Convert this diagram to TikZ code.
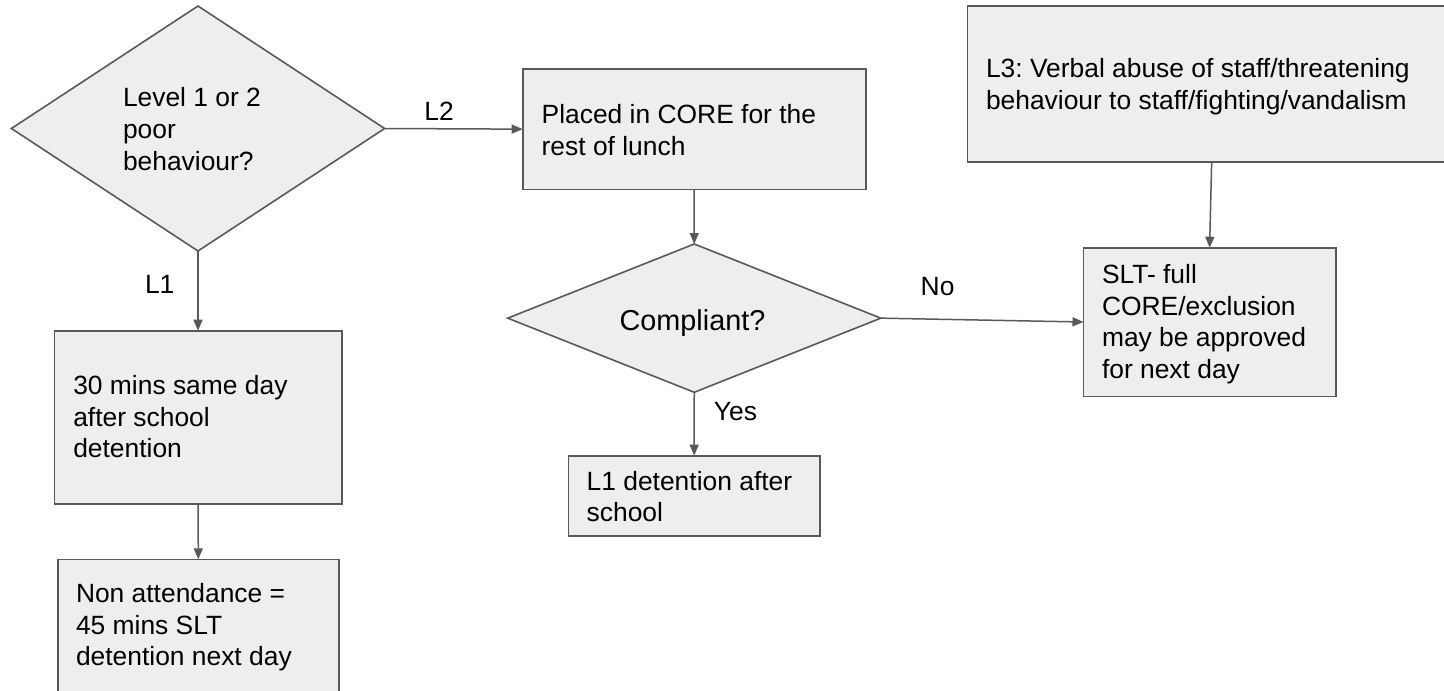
\documentclass[tikz,border=0pt]{standalone}
\usepackage{fontspec}
\setmainfont{Liberation Sans}
\usetikzlibrary{shapes.geometric,arrows.meta}
\definecolor{fillg}{HTML}{EEEEEE}
\definecolor{lineg}{HTML}{595959}
\frenchspacing
\newcommand\txtlines[1]{\vtop{\baselineskip=31.7pt\lineskiplimit=-1000pt\lineskip=0pt\halign{##\hfil\cr#1\crcr}}}
\begin{document}
\begin{tikzpicture}[x=1pt,y=-1pt,
 shapebox/.style={draw=lineg,fill=fillg,line width=1.6pt,rectangle,inner sep=0pt,outer sep=0pt},
 decision/.style={draw=lineg,fill=fillg,line width=1.6pt,diamond,inner sep=0pt,outer sep=0pt},
 words/.style={inner sep=0pt,outer sep=0pt,anchor=base west,font=\fontsize{26.4}{31.7}\selectfont},
 tag/.style={inner sep=0pt,outer sep=0pt,anchor=base,font=\fontsize{26.4}{31.7}\selectfont},
 conn/.style={draw=lineg,line width=1.5pt,-{Triangle[length=11pt,width=9pt]}}]
\useasboundingbox (0,0) rectangle (1444,691);
\clip (0,0) rectangle (1444,691);
\fill[white] (0,0) rectangle (1444,691);

% shapes
\node[decision,minimum width=373.2pt,minimum height=245pt] (d1) at (198,128.5) {};
\node[shapebox,minimum width=343pt,minimum height=120.3pt] (placed) at (694.2,129.15) {};
\node[shapebox,minimum width=287.4pt,minimum height=173.3pt] (b30) at (198,417.35) {};
\node[shapebox,minimum width=281.3pt,minimum height=180.7pt] (nonatt) at (198.35,649.65) {};
\node[decision,minimum width=373.1pt,minimum height=148.3pt] (d2) at (694.25,318.15) {};
\node[shapebox,minimum width=251.7pt,minimum height=80.3pt] (l1det) at (694.15,495.85) {};
\node[shapebox,minimum width=252.2pt,minimum height=148.6pt] (slt) at (1209.6,322) {};
\node[shapebox,minimum width=488.7pt,minimum height=156pt] (l3) at (1211.65,84) {};

% texts
\node[words] (td1) at (123,106.7) {\txtlines{Level 1 or 2\cr poor\cr behaviour?}};
\node[words] (tplaced) at (541.7,123.3) {\txtlines{Placed in CORE for the\cr rest of lunch}};
\node[words] (tb30) at (73.3,394.3) {\txtlines{30 mins same day\cr after school\cr detention}};
\node[words] (tnonatt) at (76,602.3) {\txtlines{Non attendance =\cr 45 mins SLT\cr detention next day}};
\node[words] (tl1det) at (586.7,490) {\txtlines{L1 detention after\cr school}};
\node[words] (tslt) at (1102,283.3) {\txtlines{SLT- full\cr CORE/exclusion\cr may be approved\cr for next day}};
\node[words] (tl3) at (986,77.3) {\txtlines{L3: Verbal abuse of staff/threatening\cr behaviour to staff/fighting/vandalism}};
\node[tag,font=\fontsize{28.8}{34}\selectfont] (td2) at (692.5,330) {Compliant?};

% connectors
\draw[conn] (d1.east) -- (placed.west);
\draw[conn] (d1.south) -- (b30.north);
\draw[conn] (b30.south) -- (nonatt.north);
\draw[conn] (placed.south) -- (d2.north);
\draw[conn] (d2.south) -- (l1det.north);
\draw[conn] (d2.east) -- (slt.west);
\draw[conn] (l3.south) -- (slt.north);

% connector labels
\node[tag] (lab2) at (439,120) {L2};
\node[tag] (lab1) at (159.7,293.3) {L1};
\node[tag] (labno) at (937.6,295.7) {No};
\node[tag] (labyes) at (735.4,420.7) {Yes};
\end{tikzpicture}
\end{document}
